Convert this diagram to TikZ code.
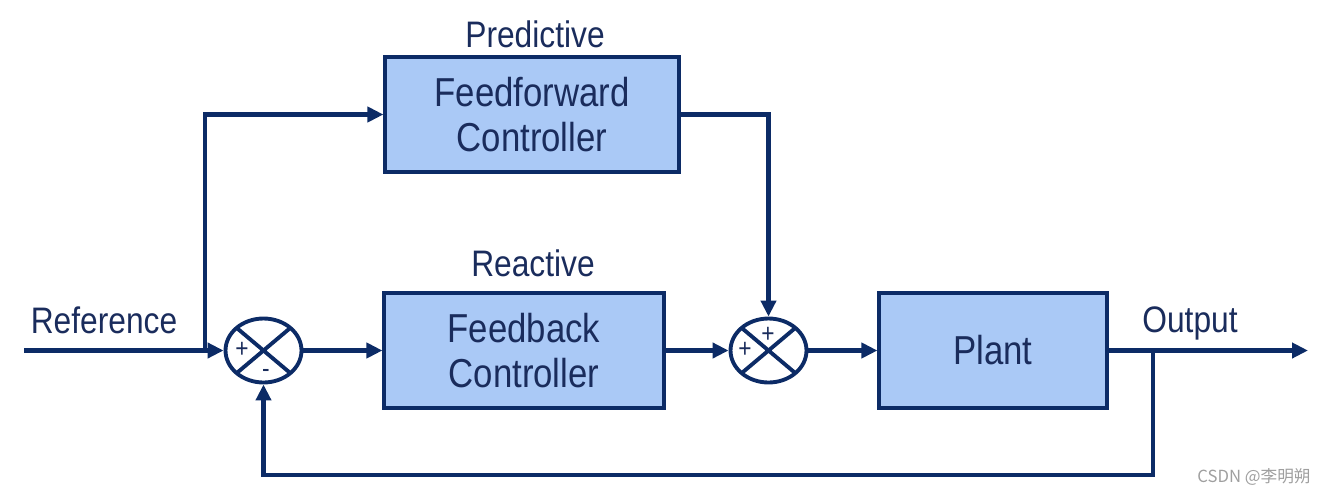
\documentclass[tikz,border=0pt]{standalone}
\usepackage{fontspec}
\setmainfont[FakeStretch=0.86]{Liberation Sans}
\newfontfamily\cjkfont{Noto Sans CJK SC}
\usetikzlibrary{shapes.geometric,arrows.meta}

\definecolor{navy}{HTML}{0C2B66}
\definecolor{textnavy}{HTML}{1A2C5C}
\definecolor{boxblue}{HTML}{AAC9F6}

\tikzset{
  block/.style={draw=navy, fill=boxblue, line width=1.8pt, minimum height=2.3cm, align=center, text=textnavy, font=\fontsize{23}{25.6}\selectfont},
  sumjunc/.style={ellipse, draw=navy, fill=white, line width=2.2pt, minimum width=1.52cm, minimum height=1.28cm, inner sep=0pt,
    path picture={\draw[navy, line width=2.2pt] (path picture bounding box.north west) -- (path picture bounding box.south east)
      (path picture bounding box.south west) -- (path picture bounding box.north east);}},
  signal/.style={draw=navy, line width=2.3pt, -{Triangle[length=0.32cm,width=0.3cm]}},
  lbl/.style={text=textnavy, font=\fontsize{21}{25}\selectfont, inner sep=0pt},
  sign/.style={text=textnavy, font=\fontsize{15}{15}\selectfont, inner sep=0pt}
}

\begin{document}
\begin{tikzpicture}[x=0.02cm, y=-0.02cm]
\useasboundingbox (0,0) rectangle (1317,494);

% blocks
\node[block, minimum width=5.88cm] (ffc) at (532,114.5) {Feedforward\\Controller};
\node[block, minimum width=5.6cm] (fbc) at (524,350.5) {Feedback\\Controller};
\node[block, minimum width=4.56cm] (plant) at (993,350.5) {Plant};

% summing junctions
\node[sumjunc] (sum1) at (263.5,350.5) {};
\node[sumjunc] (sum2) at (768.5,350.5) {};
\node[sign] (sum1plus) at (242,350) {+};
\node[sign] (sum1minus) at (266,373) {-};
\node[sign] (sum2left) at (745,350) {+};
\node[sign] (sum2top) at (768,335) {+};

% labels
\node[lbl] (predlbl) at (535,34) {Predictive};
\node[lbl] (reactlbl) at (533,263) {Reactive};
\node[lbl] (reflbl) at (104,320) {Reference};
\node[lbl] (outlbl) at (1190,323) {Output};

% free ends
\coordinate (refin) at (24,350.5);
\coordinate (branch) at (205,350.5);
\coordinate (outend) at (1308,350.5);
\coordinate (tap) at (1153,350.5);
\coordinate (fbturn) at (1153,475);

% signals
\draw[signal] (refin) -- (sum1.west);
\draw[signal] (branch) |- (ffc.west);
\draw[signal] (sum1.east) -- (fbc.west);
\draw[signal] (fbc.east) -- (sum2.west);
\draw[signal] (ffc.east) -| (sum2.north);
\draw[signal] (sum2.east) -- (plant.west);
\draw[signal] (plant.east) -- (outend);
\draw[signal] (tap) -- (fbturn) -| (sum1.south);

% watermark
\node[text=gray!75, font=\cjkfont\fontsize{9.5}{10}\selectfont, inner sep=0pt] (mark) at (1254,477) {CSDN @李明朔};
\end{tikzpicture}
\end{document}
